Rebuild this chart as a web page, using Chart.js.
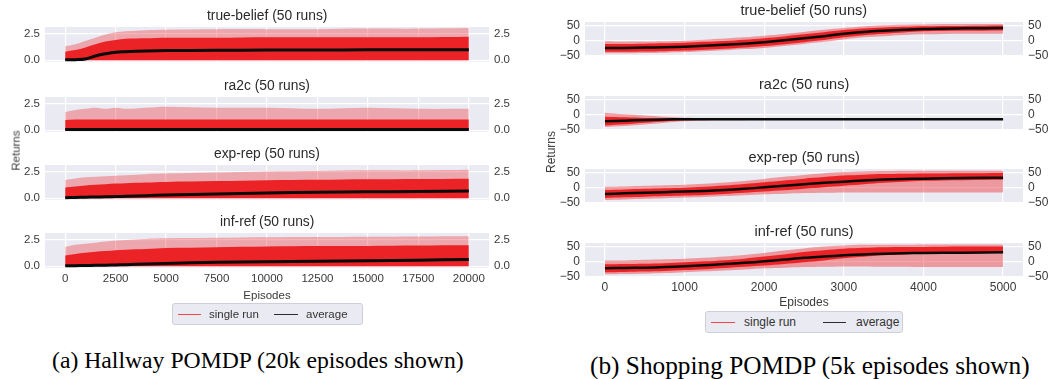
<!DOCTYPE html>
<html><head><meta charset="utf-8">
<script src="https://cdn.jsdelivr.net/npm/chart.js@4.4.1/dist/chart.umd.min.js"></script>
<style>
html,body{margin:0;padding:0;background:#fff;}
#root{position:relative;width:1050px;height:379px;overflow:hidden;font-family:"Liberation Sans",Arial,sans-serif;}
#root canvas{position:absolute;}
.txt{position:absolute;white-space:nowrap;text-align:center;}
.leg{position:absolute;background:#eaeaf2;border:1px solid #cfcfd8;border-radius:3px;box-sizing:border-box;}
.leg span{position:absolute;white-space:nowrap;color:#333;}
.leg i{position:absolute;display:block;height:0;}
</style></head><body><div id="root"></div>
<script>
// ---------------- data ----------------
const methodTitles = ['true-belief (50 runs)', 'ra2c (50 runs)', 'exp-rep (50 runs)', 'inf-ref (50 runs)'];
const xAxisLabel = 'Episodes';
const yAxisLabel = 'Returns';
const legendLabels = ['single run', 'average'];
const captions = ['(a) Hallway POMDP (20k episodes shown)', '(b) Shopping POMDP (5k episodes shown)'];

const hallwayXTicks = [0, 2500, 5000, 7500, 10000, 12500, 15000, 17500, 20000];
const hallwayYTicks = [0, 2.5];
const shoppingXTicks = [0, 1000, 2000, 3000, 4000, 5000];
const shoppingYTicks = [-50, 0, 50];

const hallwayEpisodes = [0, 500, 1000, 1500, 2000, 2500, 3000, 4000, 5000, 7500, 10000, 12500, 15000, 17500, 20000];
// Hallway: average, dense band of runs (high/low), sparse spikes of runs (high)
const hallTrueBeliefAvg   = [0.05, 0.06, 0.12, 0.4, 0.6, 0.75, 0.8, 0.86, 0.9, 0.93, 0.95, 0.96, 0.97, 0.97, 0.98];
const hallTrueBeliefHigh  = [0.8, 0.95, 1.2, 1.5, 1.75, 1.9, 2.0, 2.05, 2.1, 2.1, 2.15, 2.15, 2.15, 2.15, 2.2];
const hallTrueBeliefLow   = [0, 0, 0, 0, 0, 0, 0, 0, 0, 0, 0, 0, 0, 0, 0];
const hallTrueBeliefSpike = [1.3, 1.5, 1.8, 2.1, 2.4, 2.6, 2.7, 2.8, 2.85, 2.9, 2.9, 2.9, 2.95, 2.95, 3.0];

const hallRa2cAvg   = [0.07, 0.07, 0.07, 0.07, 0.07, 0.07, 0.07, 0.07, 0.07, 0.07, 0.07, 0.07, 0.07, 0.07, 0.07];
const hallRa2cHigh  = [0.95, 1.0, 1.0, 1.0, 1.0, 1.0, 1.0, 1.0, 1.0, 1.0, 1.0, 1.0, 1.0, 1.0, 1.0];
const hallRa2cLow   = [0, 0, 0, 0, 0, 0, 0, 0, 0, 0, 0, 0, 0, 0, 0];
const hallRa2cSpike = [1.7, 1.9, 2.0, 2.1, 2.0, 2.1, 2.0, 2.1, 2.2, 2.1, 2.1, 2.0, 2.1, 2.0, 2.0];

const hallExpRepAvg   = [0.06, 0.08, 0.1, 0.12, 0.14, 0.16, 0.19, 0.24, 0.3, 0.4, 0.5, 0.57, 0.6, 0.64, 0.67];
const hallExpRepHigh  = [1.0, 1.1, 1.2, 1.25, 1.3, 1.37, 1.4, 1.47, 1.52, 1.6, 1.68, 1.72, 1.77, 1.8, 1.83];
const hallExpRepLow   = [0, 0, 0, 0, 0, 0, 0, 0, 0, 0, 0, 0, 0, 0, 0];
const hallExpRepSpike = [1.7, 1.85, 1.95, 2.0, 2.05, 2.1, 2.15, 2.25, 2.3, 2.4, 2.5, 2.55, 2.6, 2.6, 2.65];

const hallInfRefAvg   = [0.05, 0.06, 0.07, 0.09, 0.1, 0.12, 0.15, 0.21, 0.27, 0.38, 0.43, 0.48, 0.52, 0.57, 0.63];
const hallInfRefHigh  = [1.0, 1.15, 1.25, 1.35, 1.42, 1.5, 1.55, 1.62, 1.7, 1.78, 1.85, 1.88, 1.9, 1.93, 1.95];
const hallInfRefLow   = [0, 0, 0, 0, 0, 0, 0, 0, 0, 0, 0, 0, 0, 0, 0];
const hallInfRefSpike = [1.8, 2.0, 2.1, 2.2, 2.3, 2.4, 2.45, 2.55, 2.6, 2.65, 2.7, 2.72, 2.75, 2.78, 2.8];

const shoppingEpisodes = [0, 250, 500, 750, 1000, 1250, 1500, 1750, 2000, 2250, 2500, 2750, 3000, 3250, 3500, 3750, 4000, 4500, 5000];
const shopTrueBeliefAvg       = [-25, -25, -24, -23, -21, -18, -15, -11, -6, 0, 7, 14, 22, 28, 32, 35, 38, 40, 41];
const shopTrueBeliefHigh      = [-12, -12, -11, -10, -8, -5, -2, 2, 7, 13, 20, 27, 34, 39, 43, 45, 47, 48, 49];
const shopTrueBeliefLow       = [-38, -38, -37, -36, -34, -31, -28, -24, -19, -13, -6, 1, 10, 17, 22, 26, 30, 32, 33];
const shopTrueBeliefSpikeHigh = [-3, -4, -4, -3, -1, 2, 6, 10, 15, 21, 28, 35, 41, 46, 50, 52, 53, 54, 54];
const shopTrueBeliefSpikeLow  = [-43, -43, -42, -41, -39, -36, -33, -29, -25, -19, -12, -5, 3, 10, 14, 18, 20, 22, 22];

const shopRa2cAvg       = [-23, -21, -19, -17, -16, -16, -16, -16, -16, -16, -16, -16, -16, -16, -16, -16, -16, -16, -16];
const shopRa2cHigh      = [-8, -10, -12, -13, -14, -14.5, -15, -15, -15, -15, -15, -15, -15, -15, -15, -15, -15, -15, -15];
const shopRa2cLow       = [-37, -33, -28, -24, -20, -19, -18, -17.5, -17, -17, -17, -17, -17, -17, -17, -17, -17, -17, -17];
const shopRa2cSpikeHigh = [5, 0, -4, -8, -11, -12, -13, -13.5, -14, -14, -14, -14, -14, -14, -14, -14, -14, -14, -14];
const shopRa2cSpikeLow  = [-42, -39, -34, -28, -23, -21, -20, -19.5, -19, -19, -19, -19, -19, -19, -19, -19, -19, -19, -19];

const shopExpRepAvg       = [-22, -20, -18, -16, -14, -12, -9, -5, 0, 5, 10, 15, 19, 23, 26, 28, 29, 31, 32];
const shopExpRepHigh      = [-9, -7, -5, -3, -1, 2, 6, 11, 17, 23, 29, 34, 39, 42, 44, 45, 46, 47, 48];
const shopExpRepLow       = [-35, -33, -31, -29, -27, -25, -22, -18, -14, -10, -5, 0, 5, 10, 15, 19, 22, 24, 25];
const shopExpRepSpikeHigh = [2, 3, 5, 7, 9, 12, 16, 21, 28, 35, 41, 47, 51, 53, 54, 55, 55, 55, 55];
const shopExpRepSpikeLow  = [-42, -40, -38, -36, -34, -32, -29, -26, -23, -21, -19, -18, -17, -17, -17, -17, -17, -17, -17];

const shopInfRefAvg       = [-23, -22, -21, -19, -16, -13, -9, -5, 0, 6, 12, 16, 20, 23, 25, 27, 28, 29, 30];
const shopInfRefHigh      = [-10, -9, -8, -6, -3, 0, 4, 9, 16, 23, 31, 37, 42, 45, 47, 48, 48, 49, 49];
const shopInfRefLow       = [-36, -35, -34, -32, -29, -26, -22, -18, -14, -9, -3, 3, 10, 15, 20, 23, 25, 27, 28];
const shopInfRefSpikeHigh = [3, 3, 5, 7, 9, 12, 16, 21, 28, 36, 43, 49, 53, 55, 55, 55, 56, 56, 56];
const shopInfRefSpikeLow  = [-43, -42, -41, -39, -36, -33, -30, -27, -23, -21, -19, -18, -17, -17, -18, -18, -19, -19, -19];

// ---------------- layout / style ----------------
const RED = '#eb2226';
const AVG = '#0a0a0a';
const TICK = '#3a3a3a';
const TITLE = '#2a2a2a';
const BG = '#eaeaf2';

const panels = [
  { xs: hallwayEpisodes, xTicks: hallwayXTicks, yTicks: hallwayYTicks,
    canvasLeft: 0, canvasWidth: 525, plotLeft: 45, plotRight: 489,
    tops: [27, 97, 165, 233], h: 35, yMin: -0.16, yMax: 3.1, xMin: -1000, xMax: 21000,
    tickFont: 11.5, titleFont: 13.8, titleOffset: 11.5, bottomH: 36, tickPad: 4, titlePadB: 1, lineW: 3,
    faint: 'rgba(236,38,42,0.34)',
    fmt: v => v.toFixed(1),
    series: [
      [hallTrueBeliefAvg, hallTrueBeliefHigh, hallTrueBeliefLow, hallTrueBeliefSpike, hallTrueBeliefLow],
      [hallRa2cAvg, hallRa2cHigh, hallRa2cLow, hallRa2cSpike, hallRa2cLow],
      [hallExpRepAvg, hallExpRepHigh, hallExpRepLow, hallExpRepSpike, hallExpRepLow],
      [hallInfRefAvg, hallInfRefHigh, hallInfRefLow, hallInfRefSpike, hallInfRefLow]
    ],
    ylabel: { x: 16, y: 150.5 },
    legend: { left: 172, top: 303, width: 191, height: 22, font: 11.5,
      redX: 177, redW: 23, t1: 208, blackX: 273, blackW: 24, t2: 305 },
    caption: { cx: 258, cy: 360, size: 23.7 }
  },
  { xs: shoppingEpisodes, xTicks: shoppingXTicks, yTicks: shoppingYTicks,
    canvasLeft: 525, canvasWidth: 525, plotLeft: 585, plotRight: 1023,
    tops: [22, 96, 169, 243], h: 34, yMin: -52, yMax: 61, xMin: -250, xMax: 5250,
    tickFont: 12, titleFont: 14.5, titleOffset: 11.8, bottomH: 34, tickPad: 3, titlePadB: 1, lineW: 2.5,
    faint: 'rgba(236,38,42,0.42)',
    fmt: v => (v < 0 ? '\u2212' + Math.abs(v) : String(v)),
    series: [
      [shopTrueBeliefAvg, shopTrueBeliefHigh, shopTrueBeliefLow, shopTrueBeliefSpikeHigh, shopTrueBeliefSpikeLow],
      [shopRa2cAvg, shopRa2cHigh, shopRa2cLow, shopRa2cSpikeHigh, shopRa2cSpikeLow],
      [shopExpRepAvg, shopExpRepHigh, shopExpRepLow, shopExpRepSpikeHigh, shopExpRepSpikeLow],
      [shopInfRefAvg, shopInfRefHigh, shopInfRefLow, shopInfRefSpikeHigh, shopInfRefSpikeLow]
    ],
    ylabel: { x: 551, y: 152 },
    legend: { left: 705, top: 311, width: 198, height: 22, font: 12,
      redX: 710, redW: 24, t1: 743, blackX: 822, blackW: 23, t2: 855 },
    caption: { cx: 810, cy: 365, size: 25.3 }
  }
];

Chart.defaults.font.family = '"Liberation Sans", Arial, sans-serif';
const root = document.getElementById('root');

const bgPlugin = {
  id: 'plotbg',
  beforeDraw(chart) {
    const { ctx, chartArea: a } = chart;
    ctx.save(); ctx.fillStyle = BG; ctx.fillRect(a.left, a.top, a.right - a.left, a.bottom - a.top); ctx.restore();
  }
};

function addText(text, x, y, size, color, family, rotate) {
  const d = document.createElement('div');
  d.className = 'txt';
  d.textContent = text;
  d.style.fontSize = size + 'px';
  d.style.lineHeight = Math.round(size * 1.3) + 'px';
  d.style.color = color;
  if (family) d.style.fontFamily = family;
  d.style.left = '0px'; d.style.top = '0px';
  root.appendChild(d);
  const w = d.offsetWidth, hh = d.offsetHeight;
  d.style.left = (x - w / 2) + 'px';
  d.style.top = (y - hh / 2) + 'px';
  if (rotate) d.style.transform = 'rotate(-90deg)';
  return d;
}

function makeChart(p, i) {
  const isBottom = i === 3;
  const padTop = 12, padBottom = isBottom ? 0 : 12;
  const cv = document.createElement('canvas');
  const w = p.canvasWidth, h = p.h + padTop + (isBottom ? p.bottomH : padBottom);
  cv.width = w; cv.height = h;
  cv.style.left = p.canvasLeft + 'px'; cv.style.top = (p.tops[i] - padTop) + 'px';
  cv.style.width = w + 'px'; cv.style.height = h + 'px';
  root.appendChild(cv);
  const [avg, hi, lo, sHi, sLo] = p.series[i];
  const pts = arr => p.xs.map((x, k) => ({ x: x, y: arr[k] }));
  const yCommon = {
    min: p.yMin, max: p.yMax,
    afterBuildTicks: s => { s.ticks = p.yTicks.map(v => ({ value: v })); },
    border: { display: false },
    ticks: { padding: 5, color: TICK, font: { size: p.tickFont }, autoSkip: false, callback: v => p.fmt(v) }
  };
  const none = 'rgba(0,0,0,0)';
  new Chart(cv, {
    type: 'line',
    data: { datasets: [
      { data: pts(avg), borderColor: AVG, borderWidth: p.lineW, fill: false },
      { data: pts(hi), borderWidth: 0, borderColor: none, backgroundColor: RED, fill: '+1' },
      { data: pts(lo), borderWidth: 0, borderColor: none, fill: false },
      { data: pts(sHi), borderWidth: 0, borderColor: none, backgroundColor: p.faint, fill: '+1' },
      { data: pts(sLo), borderWidth: 0, borderColor: none, fill: false }
    ] },
    options: {
      responsive: false, animation: false, devicePixelRatio: 1,
      layout: { padding: { top: padTop, bottom: padBottom, left: 0, right: 0 } },
      elements: { point: { radius: 0 }, line: { tension: 0.35 } },
      plugins: { legend: { display: false }, tooltip: { enabled: false }, title: { display: false } },
      scales: {
        x: {
          type: 'linear', min: p.xMin, max: p.xMax,
          afterBuildTicks: s => { s.ticks = p.xTicks.map(v => ({ value: v })); },
          afterFit: s => { s.height = isBottom ? p.bottomH : 0; s.paddingLeft = 0; s.paddingRight = 0; },
          grid: { color: '#ffffff', lineWidth: 1.2, drawTicks: false },
          border: { display: false },
          ticks: { display: isBottom, padding: p.tickPad, color: TICK, font: { size: p.tickFont },
                   maxRotation: 0, autoSkip: false, callback: v => String(v) },
          title: { display: isBottom, text: xAxisLabel, color: TICK, font: { size: p.tickFont },
                   padding: { top: 0, bottom: p.titlePadB } }
        },
        y: Object.assign({}, yCommon, {
          position: 'left',
          afterFit: s => { s.width = p.plotLeft - p.canvasLeft; s.paddingTop = 0; s.paddingBottom = 0; },
          grid: { color: '#ffffff', lineWidth: 1.2, drawTicks: false }
        }),
        y2: Object.assign({}, yCommon, {
          position: 'right',
          afterFit: s => { s.width = p.canvasLeft + p.canvasWidth - p.plotRight; s.paddingTop = 0; s.paddingBottom = 0; },
          grid: { display: false, drawTicks: false }
        })
      }
    },
    plugins: [bgPlugin]
  });
  addText(methodTitles[i], (p.plotLeft + p.plotRight) / 2, p.tops[i] - p.titleOffset, p.titleFont, TITLE);
}

panels.forEach((p, pi) => {
  for (let i = 0; i < 4; i++) makeChart(p, i);
  addText(yAxisLabel, p.ylabel.x, p.ylabel.y, p.tickFont, TICK, null, true);
  const L = p.legend;
  const lg = document.createElement('div');
  lg.className = 'leg';
  lg.style.left = L.left + 'px'; lg.style.top = L.top + 'px';
  lg.style.width = L.width + 'px'; lg.style.height = L.height + 'px';
  const mid = L.height / 2 - 1;
  const mk = (tag, txt, css) => { const e = document.createElement(tag); if (txt) e.textContent = txt; Object.assign(e.style, css); lg.appendChild(e); };
  mk('i', null, { left: (L.redX - L.left) + 'px', top: (mid - 0.5) + 'px', width: L.redW + 'px', borderTop: '1.6px solid #f2464b' });
  mk('span', legendLabels[0], { left: (L.t1 - L.left) + 'px', top: '0px', lineHeight: (L.height - 2) + 'px', fontSize: L.font + 'px' });
  mk('i', null, { left: (L.blackX - L.left) + 'px', top: (mid - 0.5) + 'px', width: L.blackW + 'px', borderTop: '1.6px solid #2e2e2e' });
  mk('span', legendLabels[1], { left: (L.t2 - L.left) + 'px', top: '0px', lineHeight: (L.height - 2) + 'px', fontSize: L.font + 'px' });
  root.appendChild(lg);
  addText(captions[pi], p.caption.cx, p.caption.cy, p.caption.size, '#000', '"Liberation Serif", "Times New Roman", serif');
});
</script>
</body></html>
